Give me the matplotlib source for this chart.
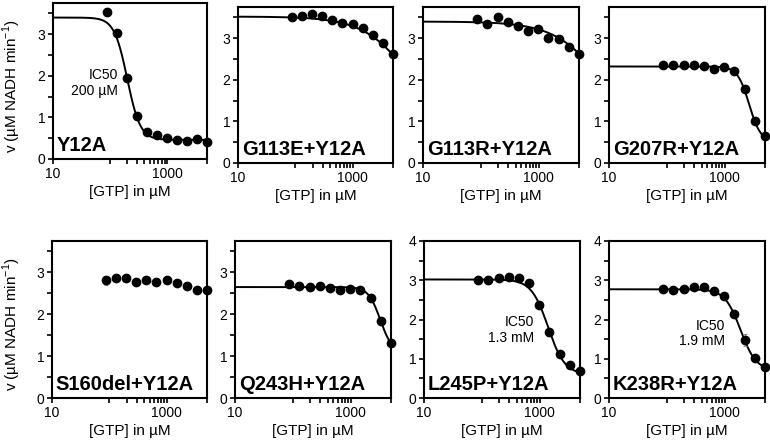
import numpy as np
import matplotlib
matplotlib.use("Agg")
import matplotlib.pyplot as plt
from matplotlib.ticker import FixedLocator, NullFormatter

plt.rcParams['font.family'] = ['Liberation Sans', 'DejaVu Sans']
plt.rcParams['mathtext.fontset'] = 'custom'
plt.rcParams['mathtext.rm'] = 'Liberation Sans'

# GTP concentrations (uM), same for all panels
gtp = [86.7, 130.1, 195.1, 292.6, 438.9, 658.4, 987.7, 1481.5, 2222.2, 3333.3, 5000.0]

names = ["Y12A", "G113E+Y12A", "G113R+Y12A", "G207R+Y12A",
         "S160del+Y12A", "Q243H+Y12A", "L245P+Y12A", "K238R+Y12A"]

# measured rates (uM NADH / min)
v_y12a = [3.54, 3.04, 1.94, 1.03, 0.66, 0.58, 0.51, 0.46, 0.44, 0.47, 0.40]
v_g113e = [3.50, 3.54, 3.58, 3.54, 3.44, 3.36, 3.33, 3.25, 3.08, 2.88, 2.61]
v_g113r = [3.46, 3.34, 3.50, 3.38, 3.30, 3.17, 3.22, 3.01, 2.98, 2.80, 2.63]
v_g207r = [2.35, 2.35, 2.35, 2.35, 2.33, 2.27, 2.31, 2.20, 1.77, 1.02, 0.64]
v_s160 = [2.81, 2.86, 2.86, 2.76, 2.81, 2.78, 2.81, 2.74, 2.68, 2.57, 2.57]
v_q243h = [2.72, 2.67, 2.66, 2.67, 2.63, 2.59, 2.60, 2.57, 2.39, 1.83, 1.31]
v_l245p = [3.01, 3.01, 3.05, 3.08, 3.05, 2.93, 2.38, 1.67, 1.11, 0.83, 0.68]
v_k238r = [2.78, 2.74, 2.78, 2.82, 2.84, 2.73, 2.60, 2.15, 1.47, 1.01, 0.78]

# error bars (SD)
e_y12a = [0.03, 0.03, 0.03, 0.03, 0.03, 0.03, 0.03, 0.03, 0.03, 0.03, 0.03]
e_g113e = [0.04, 0.05, 0.06, 0.05, 0.06, 0.06, 0.05, 0.04, 0.04, 0.04, 0.04]
e_g113r = [0.06, 0.05, 0.04, 0.04, 0.04, 0.04, 0.04, 0.04, 0.04, 0.04, 0.04]
e_g207r = [0.03, 0.03, 0.03, 0.03, 0.03, 0.03, 0.03, 0.03, 0.03, 0.03, 0.03]
e_s160 = [0.10, 0.05, 0.04, 0.04, 0.04, 0.04, 0.04, 0.04, 0.04, 0.04, 0.04]
e_q243h = [0.03, 0.03, 0.03, 0.03, 0.03, 0.03, 0.03, 0.03, 0.03, 0.03, 0.03]
e_l245p = [0.10, 0.10, 0.04, 0.04, 0.04, 0.04, 0.04, 0.04, 0.04, 0.04, 0.04]
e_k238r = [0.04, 0.04, 0.04, 0.04, 0.06, 0.04, 0.04, 0.05, 0.15, 0.08, 0.04]

rates = [v_y12a, v_g113e, v_g113r, v_g207r, v_s160, v_q243h, v_l245p, v_k238r]
errs = [e_y12a, e_g113e, e_g113r, e_g207r, e_s160, e_q243h, e_l245p, e_k238r]

# fit parameters (top, bottom, IC50 in uM, hill); None = no fit drawn
fit_top = [3.40, 3.52, 3.40, 2.32, None, 2.65, 3.02, 2.77]
fit_bottom = [0.46, 0.0, 0.0, 0.50, None, 1.10, 0.60, 0.70]
fit_ic50 = [200, 14000, 17000, 2660, None, 3245, 1400, 1886]
fit_hill = [3.8, 1.0, 1.0, 4.3, None, 4.25, 3.0, 3.2]

y_max = [3.75, 3.75, 3.75, 3.75, 3.75, 3.75, 4.0, 4.0]

# IC50 notes: panel index, x, y, text
ic50_panel = [0, 6, 7]
ic50_x = [138, 800, 1020]
ic50_y = [1.83, 1.74, 1.64]
ic50_text = ["IC50\n200 µM", "IC50\n1.3 mM", "IC50\n1.9 mM"]

W, H = 770, 442
fig = plt.figure(figsize=(W / 100, H / 100), dpi=100)

# axes boxes in pixels: left, top, width, height
boxes = [(53, 3, 154, 156), (238, 7, 155, 156), (423, 7, 156, 156), (609, 7, 156, 156),
         (52, 241, 155, 157), (235, 241, 156, 157), (424, 241, 156, 157), (609, 241, 156, 157)]

xs = np.logspace(1, np.log10(5000), 400)
axes = []
for i in range(8):
    l, t, w, h = boxes[i]
    ax = fig.add_axes([l / W, 1 - (t + h) / H, w / W, h / H])
    axes.append(ax)
    ax.set_xscale('log')
    ax.set_xlim(10, 5000)
    ax.set_ylim(0, y_max[i])

    if fit_top[i] is not None:
        curve = fit_bottom[i] + (fit_top[i] - fit_bottom[i]) / (1 + (xs / fit_ic50[i]) ** fit_hill[i])
        ax.plot(xs, curve, color='black', lw=1.4, zorder=2)
    ax.errorbar(gtp, rates[i], yerr=errs[i], fmt='none', ecolor='#8c8c8c',
                elinewidth=0.8, capsize=1.5, capthick=0.8, zorder=3, clip_on=False)
    ax.plot(gtp, rates[i], 'o', color='black', ms=6, zorder=4, clip_on=False)

    ax.text(0.025, 0.05, names[i], transform=ax.transAxes, fontsize=14.5,
            fontweight='bold', ha='left', va='baseline')

    ax.xaxis.set_major_locator(FixedLocator([10, 100, 1000, 5000]))
    ax.set_xticklabels(['10', '', '1000', ''])
    ax.xaxis.set_minor_locator(FixedLocator([200, 300, 400, 500, 600, 700, 800, 900]))
    ax.xaxis.set_minor_formatter(NullFormatter())
    ax.set_yticks(np.arange(0, y_max[i] + 0.01, 1))
    ax.set_yticks(np.arange(0, y_max[i] + 0.01, 0.5), minor=True)
    ax.tick_params(which='both', direction='out', width=1.2, length=3.5, labelsize=10, pad=2)
    for s in ax.spines.values():
        s.set_linewidth(1.5)
    ax.set_xlabel("[GTP] in µM", fontsize=11, labelpad=3)

for k in range(len(ic50_panel)):
    axes[ic50_panel[k]].text(ic50_x[k], ic50_y[k], ic50_text[k], fontsize=10,
                             ha='right', va='center', multialignment='right',
                             linespacing=1.15)

fig.text(12 / W, 1 - 86 / H, "v (µM NADH min$^{-1}$)", rotation=90, fontsize=11,
         ha='center', va='center')
fig.text(12 / W, 1 - 324 / H, "v (µM NADH min$^{-1}$)", rotation=90, fontsize=11,
         ha='center', va='center')

fig.savefig("out.png", dpi=100)
